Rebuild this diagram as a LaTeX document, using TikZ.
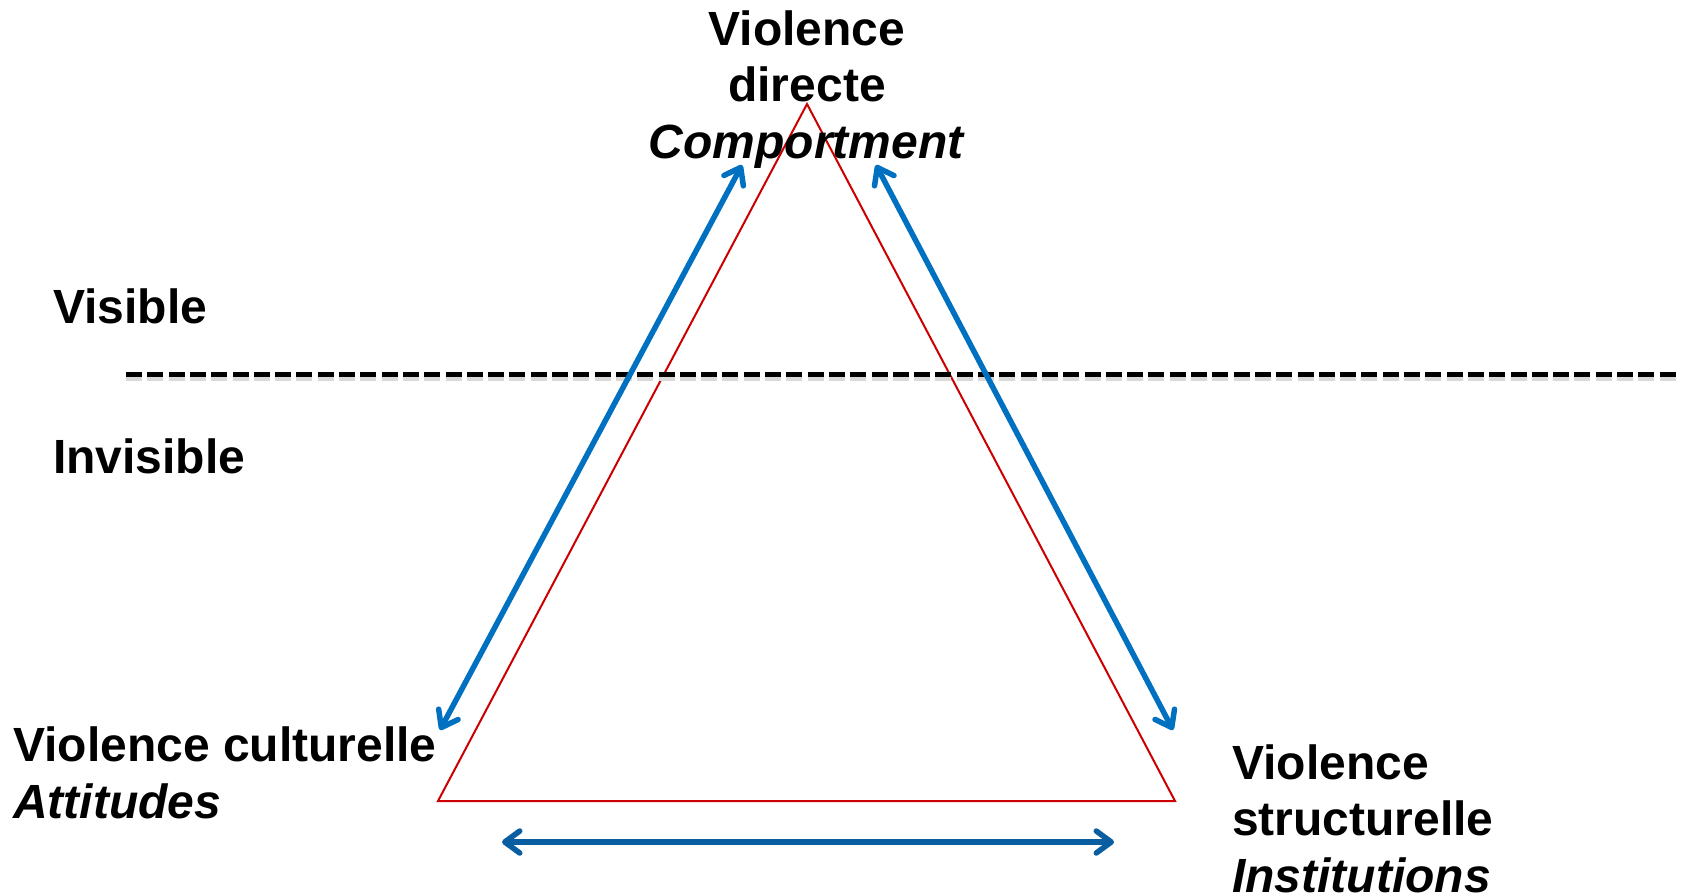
\documentclass[tikz,border=0pt]{standalone}
\usepackage{fontspec}
\setmainfont{Liberation Sans}
\usetikzlibrary{arrows.meta}
\definecolor{arrblue}{RGB}{0,112,192}
\definecolor{arrdark}{RGB}{8,94,160}
\definecolor{trired}{RGB}{204,0,0}
\tikzset{
  lbl/.style={inner sep=0pt, font=\fontsize{48}{56.5}\selectfont\bfseries},
  link/.style={draw=arrblue, line width=5.5pt, line cap=round,
    {Straight Barb[length=15pt,width=22pt,line cap=round,line join=round]}-{Straight Barb[length=15pt,width=22pt,line cap=round,line join=round]}},
}
\begin{document}
\begin{tikzpicture}[x=1pt,y=-1pt]
\useasboundingbox (0,0) rectangle (1685,895);
% triangle
\coordinate (top) at (807,104);
\coordinate (bl) at (438,801);
\coordinate (br) at (1175,801);
\draw[trired, line width=2pt, line join=miter] (top) -- (bl) -- (br) -- cycle;
% dashed separator
\coordinate (d1) at (126,374);
\coordinate (d2) at (1676,374);
\draw[black!15, line width=5pt, dash pattern=on 16pt off 5.3pt] ([yshift=-4pt]d1) -- ([yshift=-4pt]d2);
\draw[black, line width=5pt, dash pattern=on 16pt off 5.3pt] (d1) -- (d2);
% arrow end points
\coordinate (la1) at (742,165);
\coordinate (la2) at (440,730);
\coordinate (ra1) at (876,165);
\coordinate (ra2) at (1173,730);
\coordinate (ba1) at (502,842);
\coordinate (ba2) at (1114,842);
\draw[link] (la1) -- (la2);
\draw[link] (ra1) -- (ra2);
\draw[link, draw=arrdark] (ba1) -- (ba2);
% labels (base anchor = baseline of the last line)
\node[lbl, anchor=base west] (vis) at (53,323) {Visible};
\node[lbl, anchor=base west] (invis) at (53,473) {Invisible};
\node[lbl, anchor=base, align=center] (direct) at (807,158) {Violence\\directe\\\textit{Comportment}};
\node[lbl, anchor=base west, align=left] (cult) at (13,818) {Violence culturelle\\\textit{Attitudes}};
\node[lbl, anchor=base west, align=left] (struct) at (1232,892) {Violence\\structurelle\\\textit{Institutions}};
\end{tikzpicture}
\end{document}
